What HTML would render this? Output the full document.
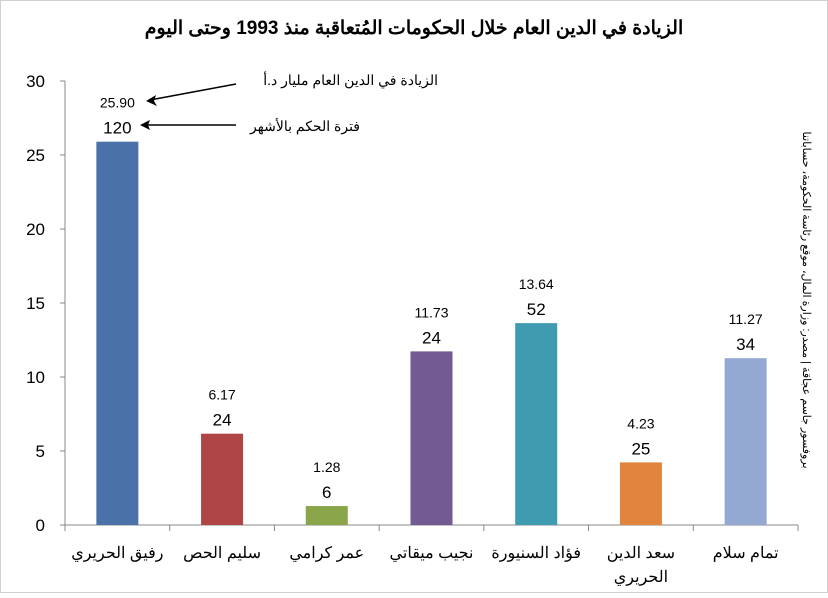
<!DOCTYPE html>
<html><head><meta charset="utf-8"><style>
body{margin:0;background:#fff}
svg text{font-family:"Liberation Sans","Noto Sans CJK SC",sans-serif}
</style></head><body>
<svg id="c" width="828" height="593" xmlns="http://www.w3.org/2000/svg">
<rect x="0.5" y="0.5" width="827" height="592" fill="#fff" stroke="#d0d0d0"/>
<text x="414" y="34" text-anchor="middle" font-size="19" font-weight="bold">الزيادة في الدين العام خلال الحكومات المُتعاقبة منذ 1993 وحتى اليوم</text>
<text transform="translate(803,300) rotate(90)" text-anchor="middle" font-size="11">بروفسور جاسم عجاقة | مصدر: وزارة المال، موقع رئاسة الحكومة، حساباتنا</text>
<g id="axes"></g>
<g id="bars"></g>
<g>
<text x="438" y="85" text-anchor="end" font-size="14">الزيادة في الدين العام مليار د.أ</text>
<line x1="236" y1="84" x2="150" y2="100" stroke="#000" stroke-width="1.5"/>
<path d="M146,101 l10,-6 l-2,6 l3,5 z" fill="#000"/>
<text x="360" y="131" text-anchor="end" font-size="14">فترة الحكم بالأشهر</text>
<line x1="236" y1="125" x2="146" y2="125" stroke="#000" stroke-width="1.5"/>
<path d="M140,125 l10,-5 l-2,5 l2,5 z" fill="#000"/>
</g>
</svg>
<script>
const categories=["رفيق الحريري","سليم الحص","عمر كرامي","نجيب ميقاتي","فؤاد السنيورة","سعد الدين|الحريري","تمام سلام"];
const debtIncrease=[25.90,6.17,1.28,11.73,13.64,4.23,11.27];
const months=[120,24,6,24,52,25,34];
const yTicks=[0,5,10,15,20,25,30];
const colors=["#4a72a8","#b04545","#8aa54a","#725a92","#3e9bb0","#e0843e","#93a9d1"];
const X0=65,X1=798,Y0=525,Y1=81,YMAX=30;
const bw=(X1-X0)/categories.length;
const y=v=>Y0-(v/YMAX)*(Y0-Y1);
const xc=i=>X0+bw*(i+0.5);
const NS="http://www.w3.org/2000/svg";
function mk(t,a,p){const e=document.createElementNS(NS,t);for(const k in a)e.setAttribute(k,a[k]);p.appendChild(e);return e;}
const ax=document.getElementById('axes'),bg=document.getElementById('bars');
let l=mk('line',{x1:X0,y1:Y1,x2:X0,y2:Y0,stroke:'#888'},ax);


l=mk('line',{x1:X0,y1:Y0,x2:X1,y2:Y0,stroke:'#888'},ax);


yTicks.forEach(t=>{
 mk('line',{x1:X0-5,y1:y(t),x2:X0,y2:y(t),stroke:'#888'},ax);
 const tx=mk('text',{x:X0-20,y:y(t)+6,'text-anchor':'end','font-size':17},ax);
 tx.textContent=t;
 
 
});
for(let i=0;i<=categories.length;i++){mk('line',{x1:X0+bw*i,y1:Y0,x2:X0+bw*i,y2:Y0+6,stroke:'#888'},ax);}
categories.forEach((c,i)=>{
 const cx=xc(i);
 const r=mk('rect',{x:cx-21,y:y(debtIncrease[i]),width:42,height:Y0-y(debtIncrease[i]),fill:colors[i]},bg);
 
 
 const v=mk('text',{x:cx,y:y(debtIncrease[i])-34,'text-anchor':'middle','font-size':14},bg);
 v.textContent=debtIncrease[i].toFixed(2);
 
 
 const m=mk('text',{x:cx,y:y(debtIncrease[i])-8,'text-anchor':'middle','font-size':17},bg);
 m.textContent=months[i];
 
 
 c.split('|').forEach((ln,j)=>{
  const t=mk('text',{x:cx,y:Y0+33+j*24,'text-anchor':'middle','font-size':16},ax);
  t.textContent=ln;
  
  
 });
});
</script>
</body></html>
